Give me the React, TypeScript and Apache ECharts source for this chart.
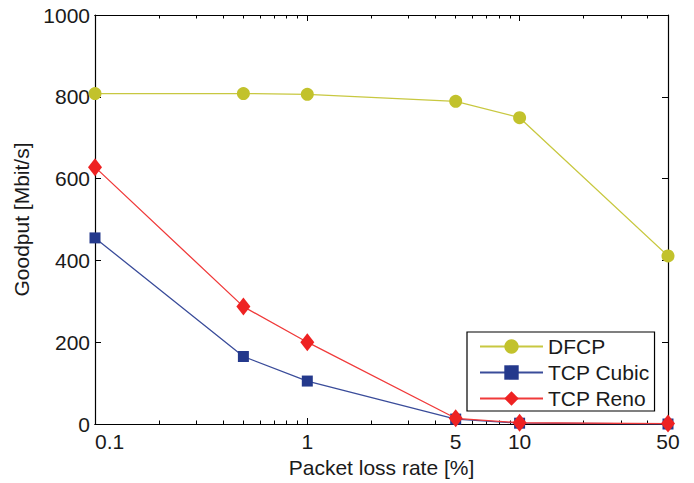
import React, { useEffect, useRef } from "react";
import * as echarts from "echarts";

// Packet loss rates in percent (log-scaled x axis)
const lossRates = [0.1, 0.5, 1, 5, 10, 50];

// Goodput in Mbit/s
const dfcp = [808, 808, 806, 789, 749, 411];
const tcpCubic = [455, 165, 105, 12, 2, 0];
const tcpReno = [628, 287, 200, 14, 3, 1];

const xLabelValues = [0.1, 1, 5, 10, 50];
const xMajorTicks = [0.1, 1, 10];
const xMinorTicks = [0.2, 0.3, 0.4, 0.5, 0.6, 0.7, 0.8, 0.9, 2, 3, 4, 5, 6, 7, 8, 9, 20, 30, 40, 50];

const FONT = "Liberation Sans, Arial, Helvetica, sans-serif";
const TEXT = "#1a1a1a";
const FS = 21;

const pair = (xs: number[], ys: number[]) => xs.map((x, i) => [x, ys[i]]);

export default function App() {
  const ref = useRef<HTMLDivElement>(null);

  useEffect(() => {
    if (!ref.current) return;
    const chart = echarts.init(ref.current, null, { renderer: "svg" });

    const baseX = (position: "top" | "bottom", ticks: number[], len: number, labels: boolean, extra: any = {}) => ({
      type: "log",
      logBase: 10,
      min: 0.1,
      max: 50,
      position,
      axisLine: { show: true, lineStyle: { color: "#000", width: 1.2 } },
      axisTick: { show: true, inside: true, length: len, customValues: ticks, lineStyle: { color: "#000", width: 1 } },
      axisLabel: labels
        ? { show: true, customValues: xLabelValues, fontSize: FS, color: TEXT, fontFamily: FONT, margin: 7, alignMinLabel: "left", formatter: (v: number) => String(v) }
        : { show: false },
      splitLine: { show: false },
      minorTick: { show: false },
      ...extra,
    });

    const baseY = (position: "left" | "right", labels: boolean, extra: any = {}) => ({
      type: "value",
      min: 0,
      max: 1000,
      interval: 200,
      position,
      axisLine: { show: true, lineStyle: { color: "#000", width: 1.2 } },
      axisTick: { show: true, inside: true, length: 6, lineStyle: { color: "#000", width: 1 } },
      axisLabel: labels
        ? { show: true, fontSize: FS, color: TEXT, fontFamily: FONT, margin: 5, formatter: (v: number) => String(v) }
        : { show: false },
      splitLine: { show: false },
      ...extra,
    });

    chart.setOption({
      animation: false,
      backgroundColor: "#fff",
      grid: { left: 95, right: 26, top: 15, bottom: 57, containLabel: false },
      xAxis: [
        baseX("bottom", xMajorTicks, 6, true, {
          name: "Packet loss rate [%]",
          nameLocation: "middle",
          nameGap: 33,
          nameTextStyle: { fontSize: FS, color: TEXT, fontFamily: FONT },
        }),
        baseX("bottom", xMinorTicks, 3.5, false),
        baseX("top", xMajorTicks, 6, false),
        baseX("top", xMinorTicks, 3.5, false),
      ],
      yAxis: [
        baseY("left", true, {
          name: "Goodput [Mbit/s]",
          nameLocation: "middle",
          nameGap: 60,
          nameRotate: 90,
          nameTextStyle: { fontSize: FS, color: TEXT, fontFamily: FONT },
        }),
        baseY("right", false),
      ],
      legend: {
        left: 467,
        top: 332,
        orient: "vertical",
        backgroundColor: "#fff",
        borderColor: "#000",
        borderWidth: 1.2,
        padding: [4, 5, 2, 12],
        itemGap: 5,
        itemWidth: 63,
        itemHeight: 18,
        textStyle: { fontSize: FS, color: TEXT, fontFamily: FONT, padding: [0, 0, 0, 0] },
        data: ["DFCP", "TCP Cubic", "TCP Reno"],
      },
      series: [
        {
          name: "DFCP",
          type: "line",
          data: pair(lossRates, dfcp),
          color: "#c2c22c",
          symbol: "circle",
          symbolSize: 13,
          lineStyle: { width: 1.3, color: "#c8c840" },
          itemStyle: { color: "#c2c22c" },
          z: 3,
        },
        {
          name: "TCP Cubic",
          type: "line",
          data: pair(lossRates, tcpCubic),
          color: "#24398c",
          symbol: "rect",
          symbolSize: 11,
          lineStyle: { width: 1.3, color: "#3a4c9a" },
          itemStyle: { color: "#24398c" },
          z: 4,
        },
        {
          name: "TCP Reno",
          type: "line",
          data: pair(lossRates, tcpReno),
          color: "#ee2222",
          symbol: "diamond",
          symbolSize: [14, 18],
          lineStyle: { width: 1.3, color: "#f03a3a" },
          itemStyle: { color: "#ee2222" },
          z: 5,
        },
      ],
    });

    return () => chart.dispose();
  }, []);

  return <div ref={ref} style={{ width: 694, height: 483, position: "absolute", left: 0, top: 0 }} />;
}
